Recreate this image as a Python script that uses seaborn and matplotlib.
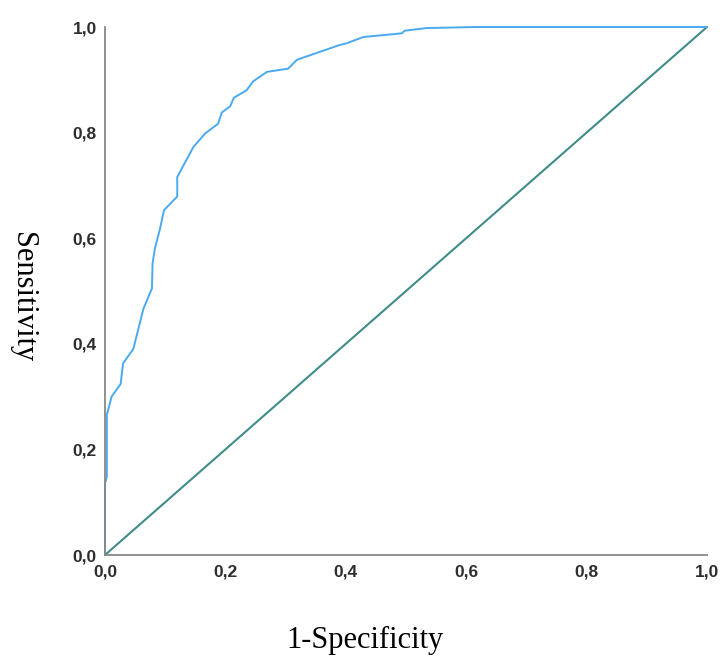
import numpy as np
import pandas as pd
import matplotlib
matplotlib.use("Agg")
import matplotlib.pyplot as plt
import seaborn as sns

# ROC curve points (1-specificity, sensitivity)
fpr = [0.000, 0.000, 0.003, 0.003, 0.011, 0.026, 0.030, 0.047, 0.064, 0.078,
       0.079, 0.083, 0.091, 0.098, 0.120, 0.120, 0.147, 0.166, 0.188, 0.194,
       0.208, 0.214, 0.235, 0.246, 0.269, 0.304, 0.319, 0.390, 0.401, 0.429,
       0.493, 0.498, 0.534, 0.617, 0.706, 1.000]
tpr = [0.000, 0.136, 0.148, 0.265, 0.300, 0.324, 0.363, 0.390, 0.467, 0.505,
       0.552, 0.581, 0.616, 0.653, 0.679, 0.716, 0.773, 0.798, 0.817, 0.838,
       0.850, 0.866, 0.880, 0.897, 0.915, 0.921, 0.938, 0.966, 0.969, 0.981,
       0.988, 0.993, 0.998, 1.000, 1.000, 1.000]
ref_x = [0.0, 1.0]
ref_y = [0.0, 1.0]
tick_vals = [0.0, 0.2, 0.4, 0.6, 0.8, 1.0]
tick_labels = ["0,0", "0,2", "0,4", "0,6", "0,8", "1,0"]

sns.set_style("white")

fig = plt.figure(figsize=(7.27, 6.57), dpi=100)
ax = fig.add_axes([105 / 727, 102 / 657, 602 / 727, 528 / 657])

roc = pd.DataFrame({"fpr": fpr, "tpr": tpr})
ref = pd.DataFrame({"x": ref_x, "y": ref_y})

sns.lineplot(data=ref, x="x", y="y", color="#3f8c88", linewidth=1.5,
             sort=False, estimator=None, ax=ax, clip_on=False)
sns.lineplot(data=roc, x="fpr", y="tpr", color="#4aaaf0", linewidth=1.4,
             sort=False, estimator=None, ax=ax, clip_on=False)

ax.set_xlim(0, 1)
ax.set_ylim(0, 1)
ax.set_xticks(tick_vals)
ax.set_yticks(tick_vals)
tick_font = dict(family=["Liberation Sans", "DejaVu Sans"],
                 weight="bold", size=12.5, color="#2e2e2e")
ax.set_xticklabels(tick_labels, **tick_font)
ax.set_yticklabels(tick_labels, **tick_font)
ax.tick_params(axis="x", length=0, pad=7)
ax.tick_params(axis="y", length=0, pad=6)

for side in ["top", "right"]:
    ax.spines[side].set_visible(False)
for side in ["left", "bottom"]:
    ax.spines[side].set_color("#888888")
    ax.spines[side].set_linewidth(1.3)

label_font = dict(family=["Liberation Serif", "DejaVu Serif"], size=22,
                  color="black")
ax.set_xlabel("1-Specificity", va="center", ha="center", **label_font)
ax.xaxis.set_label_coords((365 - 105) / 602, (555 - 640.5) / 528)
ax.set_ylabel("Sensitivity", rotation=-90, va="center", ha="center",
              **label_font)
ax.yaxis.set_label_coords((22.5 - 105) / 602, (555 - 297.5) / 528)

fig.savefig("out.png", dpi=100)
